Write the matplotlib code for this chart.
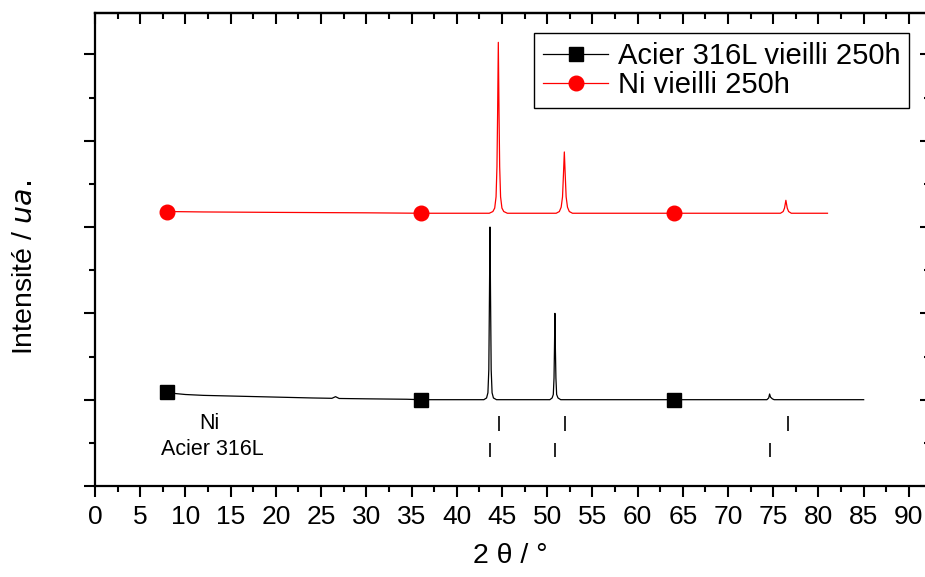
import matplotlib
matplotlib.use("Agg")
import matplotlib.pyplot as plt
from matplotlib.ticker import MultipleLocator, NullFormatter

plt.rcParams['font.family'] = ['Liberation Sans', 'DejaVu Sans']

# ---- data ----
acier_x = [8.0, 8.6, 10.0, 12.0, 16.0, 20.0, 24.0, 26.2, 26.6, 27.0, 30.0, 34.5, 36.0, 40.0,
           43.0, 43.3, 43.45, 43.55, 43.62, 43.68, 43.74, 43.81, 43.91, 44.06, 44.4,
           47.0, 50.3, 50.55, 50.68, 50.76, 50.81, 50.86, 50.91, 50.97, 51.05, 51.2, 51.5,
           56.0, 60.0, 64.0, 68.0, 72.0, 74.3, 74.5, 74.6, 74.7, 74.9, 75.1, 78.0, 82.0, 85.0]
acier_y = [1.085, 1.074, 1.06, 1.05, 1.04, 1.03, 1.02, 1.016, 1.035, 1.014, 1.01, 1.005, 1.0, 1.0,
           1.0, 1.02, 1.08, 1.35, 2.2, 3.0, 2.2, 1.35, 1.08, 1.02, 1.0,
           1.0, 1.0, 1.02, 1.06, 1.25, 1.6, 2.0, 1.6, 1.25, 1.06, 1.02, 1.0,
           1.0, 1.0, 1.0, 1.0, 1.0, 1.0, 1.02, 1.066, 1.03, 1.01, 1.0, 1.0, 1.0, 1.0]

ni_x = [8.0, 12.0, 20.0, 30.0, 36.0, 40.0, 43.6, 44.0, 44.2, 44.35, 44.45, 44.52, 44.6, 44.68,
        44.75, 44.85, 45.0, 45.2, 45.6, 48.0, 51.0, 51.35, 51.55, 51.7, 51.8, 51.9, 52.0, 52.1,
        52.25, 52.45, 52.8, 58.0, 64.0, 70.0, 75.8, 76.1, 76.25, 76.4, 76.55, 76.7, 77.0, 81.0]
ni_y = [3.18, 3.175, 3.17, 3.165, 3.16, 3.16, 3.16, 3.18, 3.22, 3.35, 3.7, 4.3, 5.14, 4.3,
        3.7, 3.35, 3.22, 3.18, 3.16, 3.16, 3.16, 3.18, 3.23, 3.35, 3.6, 3.87, 3.6, 3.35,
        3.23, 3.18, 3.16, 3.16, 3.16, 3.16, 3.16, 3.18, 3.22, 3.31, 3.22, 3.18, 3.16, 3.16]

marker_x = [8.0, 36.0, 64.0]

ref_ni = [44.7, 52.0, 76.6]
ref_acier = [43.7, 50.85, 74.6]

labels = ["Acier 316L vieilli 250h", "Ni vieilli 250h"]

# ---- figure ----
W, H = 925, 577
fig = plt.figure(figsize=(W / 100, H / 100), dpi=100)
ax = fig.add_axes([95 / W, (H - 486) / H, (926.5 - 95) / W, (486 - 13) / H])

ax.plot(acier_x, acier_y, color='black', lw=0.9, marker='s', ms=9.5,
        markevery=[acier_x.index(v) for v in marker_x], label=labels[0])
ax.plot(ni_x, ni_y, color='#ff0000', lw=0.9, marker='o', ms=10.5,
        markevery=[ni_x.index(v) for v in marker_x], label=labels[1])

ax.vlines(ref_ni, 0.64, 0.81, color='black', lw=1.2)
ax.vlines(ref_acier, 0.34, 0.50, color='black', lw=1.2)
ax.text(12.7, 0.72, "Ni", fontsize=15.5, ha='center', va='center')
ax.text(7.3, 0.42, "Acier 316L", fontsize=15.5, ha='left', va='center')

ax.set_xlim(0, 91.95)
ax.set_ylim(0, 5.48)

ax.xaxis.set_major_locator(MultipleLocator(5))
ax.xaxis.set_minor_locator(MultipleLocator(2.5))
ax.yaxis.set_major_locator(MultipleLocator(1))
ax.yaxis.set_minor_locator(MultipleLocator(0.5))
ax.yaxis.set_major_formatter(NullFormatter())

ax.tick_params(axis='both', which='major', direction='out', length=8, width=1.5)
ax.tick_params(axis='both', which='minor', direction='out', length=4, width=1.5)
ax.tick_params(axis='x', labelsize=19, pad=6)

for s in ax.spines.values():
    s.set_linewidth(1.6)
ax.spines['right'].set_visible(False)

sec_x = ax.secondary_xaxis('top')
sec_x.xaxis.set_major_locator(MultipleLocator(5))
sec_x.xaxis.set_minor_locator(MultipleLocator(2.5))
sec_x.tick_params(which='major', direction='in', length=8, width=1.5, labeltop=False)
sec_x.tick_params(which='minor', direction='in', length=4, width=1.5)
sec_x.spines['top'].set_linewidth(1.6)

sec_y = ax.secondary_yaxis('right')
sec_y.yaxis.set_major_locator(MultipleLocator(1))
sec_y.yaxis.set_minor_locator(MultipleLocator(0.5))
sec_y.tick_params(which='major', direction='in', length=5, width=1.5, labelright=False)
sec_y.tick_params(which='minor', direction='in', length=2, width=1.5)
sec_y.spines['right'].set_visible(False)

ax.set_xlabel("2 θ / °", fontsize=20.5, labelpad=10)
ax.set_ylabel("Intensité / $\\mathit{ua.}$", fontsize=20.5)
ax.yaxis.set_label_coords(-0.069, 0.463)

leg = ax.legend(loc='upper right', bbox_to_anchor=(0.9795, 0.9577), borderaxespad=0,
                fontsize=21, frameon=True, fancybox=False, framealpha=1,
                edgecolor='black', handlelength=2.25, handletextpad=0.33,
                labelspacing=0.05, borderpad=0.3)
leg.get_frame().set_linewidth(1.0)

fig.savefig("out.png", dpi=100)
